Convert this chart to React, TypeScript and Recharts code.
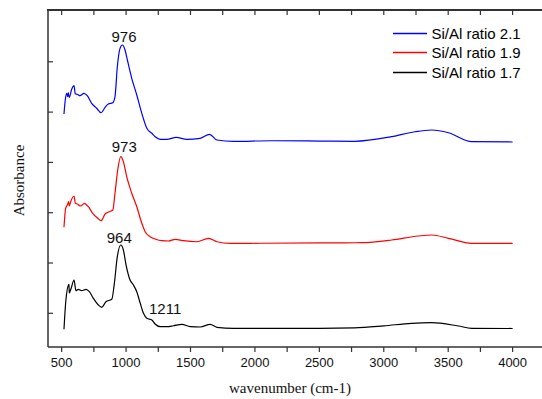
import { Label, Legend, Line, LineChart, ReferenceDot, XAxis, YAxis } from "recharts";

// wavenumber (cm-1) / absorbance (series are offset vertically)
const wn21 = [518, 528, 539, 547, 551, 559, 578, 596, 606, 621, 642, 673, 699, 733, 772, 806, 837, 862, 897, 914, 932, 953, 971, 992, 1010, 1044, 1083, 1122, 1161, 1200, 1226, 1264, 1316, 1389, 1472, 1575, 1648, 1705, 1834, 2128, 2500, 2773, 3061, 3242, 3372, 3502, 3683, 4000];
const abs21 = [4.632, 4.911, 5.044, 4.976, 5.056, 4.964, 5.123, 5.195, 5.03, 5.024, 4.996, 5.044, 4.996, 4.845, 4.746, 4.658, 4.765, 4.831, 4.857, 4.976, 5.571, 5.938, 6.004, 5.905, 5.706, 5.342, 5.01, 4.646, 4.348, 4.249, 4.181, 4.129, 4.129, 4.169, 4.129, 4.149, 4.229, 4.115, 4.089, 4.101, 4.095, 4.089, 4.181, 4.28, 4.314, 4.26, 4.082, 4.076];

const wn19 = [518, 531, 544, 554, 559, 570, 596, 606, 621, 648, 676, 707, 741, 780, 806, 837, 870, 897, 914, 935, 959, 979, 1005, 1044, 1083, 1122, 1148, 1187, 1226, 1278, 1329, 1381, 1446, 1550, 1640, 1705, 1809, 1964, 2500, 2827, 3061, 3268, 3372, 3502, 3683, 4000];
const abs19 = [2.38, 2.757, 2.823, 2.889, 2.803, 2.889, 3.002, 2.857, 2.843, 2.803, 2.857, 2.789, 2.658, 2.559, 2.511, 2.644, 2.69, 2.724, 3.056, 3.519, 3.783, 3.684, 3.386, 3.056, 2.789, 2.459, 2.292, 2.193, 2.147, 2.113, 2.107, 2.141, 2.113, 2.093, 2.161, 2.093, 2.062, 2.062, 2.07, 2.074, 2.127, 2.207, 2.227, 2.161, 2.062, 2.062];

const wn17 = [518, 533, 557, 559, 572, 596, 611, 629, 656, 689, 715, 746, 785, 811, 844, 876, 889, 909, 932, 959, 979, 1000, 1031, 1057, 1083, 1110, 1135, 1161, 1200, 1225, 1264, 1316, 1368, 1433, 1498, 1575, 1653, 1705, 1832, 2200, 2500, 2773, 3000, 3216, 3372, 3579, 3683, 4000];
const abs17 = [0.352, 0.934, 1.247, 1.074, 1.153, 1.332, 1.119, 1.147, 1.119, 1.147, 1.099, 0.968, 0.835, 0.789, 0.901, 0.934, 0.948, 1.266, 1.795, 2.028, 1.928, 1.63, 1.332, 1.233, 1.099, 0.869, 0.67, 0.571, 0.537, 0.457, 0.404, 0.404, 0.423, 0.451, 0.404, 0.398, 0.451, 0.392, 0.372, 0.372, 0.372, 0.38, 0.42, 0.471, 0.483, 0.417, 0.372, 0.368];

const seriesNames = ["Si/Al ratio 2.1", "Si/Al ratio 1.9", "Si/Al ratio 1.7"];
const seriesColors = ["#0000ff", "#ff0000", "#000000"];

const xTicks = [500, 750, 1000, 1250, 1500, 1750, 2000, 2250, 2500, 2750, 3000, 3250, 3500, 3750, 4000];
const yTicks = [0.67, 1.67, 2.67, 3.67, 4.67, 5.67];

const peakLabels = ["976", "973", "964", "1211"];
const peakX = [984, 986, 947, 1303];
const peakY = [6.16, 3.99, 2.17, 0.76];

const toPoints = (xs: number[], ys: number[]) => xs.map((x, i) => ({ x, y: ys[i] }));
const series = [toPoints(wn21, abs21), toPoints(wn19, abs19), toPoints(wn17, abs17)];

const X_DOMAIN = [394, 4228];
const Y_TOP = 6.7;

const SANS = "'Liberation Sans', Arial, sans-serif";
const SERIF = "'Liberation Serif', 'Times New Roman', serif";
const AXIS = "#333";

// fixed order, same as the reference legend
function LegendBox() {
  return (
    <div style={{ fontFamily: SANS, fontSize: 15, color: "#000" }}>
      {seriesNames.map((name, i) => (
        <div key={name} style={{ display: "flex", alignItems: "center", height: 19.5, whiteSpace: "nowrap" }}>
          <svg width={34} height={3} style={{ marginRight: 5 }}>
            <line x1={0} y1={1.5} x2={34} y2={1.5} stroke={seriesColors[i]} strokeWidth={1.3} />
          </svg>
          <span>{name}</span>
        </div>
      ))}
    </div>
  );
}

export default function App() {
  return (
    <div style={{ position: "absolute", left: 0, top: 0, width: 542, height: 399, background: "#fff" }}>
      {/* top edge of the frame */}
      <div style={{ position: "absolute", left: 47.25, top: 9.25, width: 495, height: 1.5, background: AXIS }} />
      <LineChart width={542} height={399} margin={{ top: 0, right: 0, bottom: 0, left: 48 }}>
        <XAxis
          type="number"
          dataKey="x"
          domain={X_DOMAIN}
          ticks={xTicks}
          allowDataOverflow
          tickFormatter={(v: number) => (v % 500 === 0 ? String(v) : "")}
          tickSize={5}
          tickMargin={6}
          height={52}
          axisLine={{ stroke: AXIS, strokeWidth: 1.5 }}
          tickLine={{ stroke: AXIS, strokeWidth: 1.2 }}
          tick={{ fontFamily: SANS, fontSize: 13, fill: "#111" }}
        >
          <Label
            value="wavenumber (cm-1)"
            position="insideBottom"
            offset={6}
            dx={-5}
            style={{ fontFamily: SERIF, fontSize: 15, fill: "#111" }}
          />
        </XAxis>
        {/* top axis: same scale, ticks pointing into the plot */}
        <XAxis
          xAxisId="top"
          orientation="top"
          type="number"
          dataKey="x"
          domain={X_DOMAIN}
          ticks={xTicks}
          allowDataOverflow
          tickFormatter={() => ""}
          tickSize={-5}
          height={10}
          axisLine={{ stroke: AXIS, strokeWidth: 1.5 }}
          tickLine={{ stroke: AXIS, strokeWidth: 1.2 }}
        />
        <YAxis
          type="number"
          domain={[0, Y_TOP]}
          ticks={yTicks}
          allowDataOverflow
          mirror
          tickFormatter={() => ""}
          tickSize={5}
          width={48}
          axisLine={{ stroke: AXIS, strokeWidth: 1.5 }}
          tickLine={{ stroke: AXIS, strokeWidth: 1.2 }}
          label={{
            content: ({ viewBox }: any) => {
              const cx = 19;
              const cy = viewBox.y + viewBox.height / 2 + 2;
              return (
                <text
                  x={cx}
                  y={cy}
                  transform={`rotate(-90 ${cx} ${cy})`}
                  textAnchor="middle"
                  dominantBaseline="central"
                  style={{ fontFamily: SERIF, fontSize: 15, fill: "#111" }}
                >
                  Absorbance
                </text>
              );
            },
          }}
        />
        <Legend
          verticalAlign="middle"
          align="center"
          layout="vertical"
          content={<LegendBox />}
          wrapperStyle={{ position: "absolute", top: 23.5, left: 392.5, width: "auto", height: "auto" }}
        />
        {series.map((data, i) => (
          <Line
            key={seriesNames[i]}
            data={data}
            dataKey="y"
            name={seriesNames[i]}
            xAxisId={i === 2 ? "top" : 0}
            type="monotone"
            stroke={seriesColors[i]}
            strokeWidth={1.2}
            dot={false}
            isAnimationActive={false}
          />
        ))}
        {peakLabels.map((t, i) => (
          <ReferenceDot
            key={t}
            x={peakX[i]}
            y={peakY[i]}
            r={0}
            fill="none"
            stroke="none"
            label={{ value: t, position: "center", fontFamily: SANS, fontSize: 15, fill: "#111" }}
          />
        ))}
      </LineChart>
    </div>
  );
}
